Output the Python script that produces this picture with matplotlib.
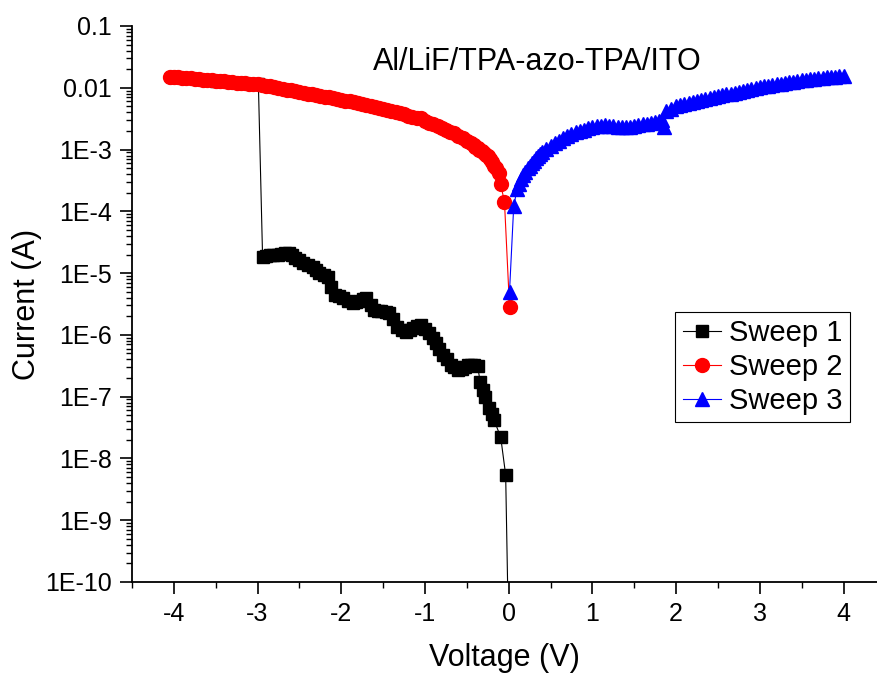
import matplotlib
matplotlib.use("Agg")
import matplotlib.pyplot as plt
from matplotlib.ticker import FixedLocator, FuncFormatter, LogLocator, NullFormatter

plt.rcParams["font.family"] = ["Liberation Sans", "DejaVu Sans"]
plt.rcParams["axes.unicode_minus"] = False

# Sweep 1 (black squares)
v_sweep1 = [-4.0, -3.5, -2.99,
            -2.94, -2.90, -2.85, -2.81, -2.76, -2.72, -2.67, -2.63, -2.59, -2.55, -2.50, -2.46,
            -2.40, -2.34, -2.30, -2.26, -2.21, -2.16, -2.12, -2.08, -2.03, -1.98, -1.92, -1.86,
            -1.82, -1.78, -1.74, -1.70, -1.65, -1.61, -1.56, -1.52, -1.47, -1.43, -1.38, -1.33,
            -1.28, -1.23, -1.18, -1.14, -1.09, -1.05, -1.00, -0.95, -0.91, -0.87, -0.83, -0.79,
            -0.74, -0.69, -0.65, -0.60, -0.56, -0.52, -0.48, -0.45, -0.41, -0.37, -0.34, -0.31,
            -0.28, -0.23, -0.20, -0.175, -0.095, -0.036, 0.0]
i_sweep1 = [1.5e-2, 1.31e-2, 1.14e-2,
            1.85e-5, 1.9e-5, 1.93e-5, 1.97e-5, 2.0e-5, 2.05e-5, 2.1e-5, 2.15e-5, 1.95e-5, 1.75e-5, 1.6e-5, 1.45e-5,
            1.35e-5, 1.27e-5, 1.12e-5, 1.0e-5, 9.3e-6, 8.7e-6, 6.0e-6, 4.4e-6, 4.2e-6, 4.0e-6, 3.6e-6, 3.3e-6,
            3.4e-6, 3.6e-6, 3.8e-6, 3.9e-6, 3.1e-6, 2.5e-6, 2.45e-6, 2.4e-6, 2.35e-6, 2.3e-6, 1.8e-6, 1.36e-6,
            1.2e-6, 1.12e-6, 1.2e-6, 1.3e-6, 1.38e-6, 1.44e-6, 1.25e-6, 1.07e-6, 9.0e-7, 7.4e-7, 6.0e-7, 4.8e-7,
            4.0e-7, 3.3e-7, 3.0e-7, 2.7e-7, 2.85e-7, 3.0e-7, 3.2e-7, 3.3e-7, 3.2e-7, 3.1e-7, 1.7e-7, 1.3e-7,
            1.0e-7, 6.5e-8, 5.2e-8, 4.2e-8, 2.2e-8, 5.4e-9, 1e-11]

# Sweep 2 (red circles)
v_sweep2 = [-4.05, -4.00, -3.95, -3.90, -3.85, -3.80, -3.75, -3.70, -3.65, -3.60, -3.55, -3.50,
            -3.45, -3.40, -3.35, -3.30, -3.25, -3.20, -3.15, -3.10, -3.05, -3.00, -2.95, -2.90,
            -2.85, -2.80, -2.75, -2.70, -2.65, -2.60, -2.55, -2.50, -2.45, -2.40, -2.35, -2.30,
            -2.25, -2.20, -2.15, -2.10, -2.05, -2.00, -1.95, -1.90, -1.85, -1.80, -1.75, -1.70,
            -1.65, -1.60, -1.55, -1.50, -1.45, -1.40, -1.35, -1.30, -1.25, -1.20, -1.15, -1.10,
            -1.05, -1.00, -0.95, -0.90, -0.85, -0.80, -0.75, -0.70, -0.65, -0.60, -0.55, -0.50,
            -0.45, -0.42, -0.40, -0.37, -0.35, -0.32, -0.30, -0.27, -0.25, -0.22, -0.20, -0.17,
            -0.15, -0.12, -0.095, -0.05, 0.01]
i_sweep2 = [1.52e-2, 1.50e-2, 1.48e-2, 1.46e-2, 1.44e-2, 1.42e-2, 1.40e-2, 1.38e-2, 1.36e-2, 1.34e-2, 1.32e-2, 1.30e-2,
            1.28e-2, 1.265e-2, 1.25e-2, 1.23e-2, 1.21e-2, 1.195e-2, 1.18e-2, 1.165e-2, 1.15e-2, 1.13e-2, 1.11e-2, 1.08e-2,
            1.05e-2, 1.02e-2, 9.9e-3, 9.6e-3, 9.3e-3, 9.05e-3, 8.8e-3, 8.55e-3, 8.3e-3, 8.05e-3, 7.8e-3, 7.6e-3,
            7.4e-3, 7.2e-3, 7.0e-3, 6.8e-3, 6.6e-3, 6.4e-3, 6.2e-3, 6.05e-3, 5.9e-3, 5.7e-3, 5.5e-3, 5.3e-3,
            5.1e-3, 4.9e-3, 4.7e-3, 4.5e-3, 4.3e-3, 4.15e-3, 4.0e-3, 3.85e-3, 3.7e-3, 3.55e-3, 3.4e-3, 3.3e-3,
            3.2e-3, 2.95e-3, 2.71e-3, 2.55e-3, 2.39e-3, 2.24e-3, 2.1e-3, 1.95e-3, 1.82e-3, 1.66e-3, 1.51e-3, 1.38e-3,
            1.26e-3, 1.18e-3, 1.12e-3, 1.06e-3, 1.0e-3, 9.3e-4, 8.8e-4, 8.3e-4, 7.8e-4, 6.9e-4, 6.3e-4, 5.5e-4,
            5.0e-4, 4.2e-4, 2.75e-4, 1.4e-4, 2.8e-6]

# Sweep 3 (blue triangles)
v_sweep3 = [0.01, 0.06, 0.10, 0.125, 0.15, 0.175, 0.20, 0.225, 0.25, 0.275, 0.30, 0.325, 0.35, 0.375,
            0.40, 0.45, 0.50, 0.55, 0.60, 0.65, 0.70, 0.75, 0.80, 0.85, 0.90, 0.95, 1.00, 1.05,
            1.10, 1.15, 1.20, 1.25, 1.30, 1.35, 1.40, 1.45, 1.50, 1.55, 1.60, 1.65, 1.70, 1.75,
            1.80, 1.83, 1.86, 1.88, 1.94, 2.00, 2.05, 2.10, 2.15, 2.20, 2.25, 2.30, 2.35, 2.40,
            2.45, 2.50, 2.55, 2.60, 2.65, 2.70, 2.75, 2.80, 2.85, 2.90, 2.95, 3.00, 3.05, 3.10,
            3.15, 3.20, 3.25, 3.30, 3.35, 3.40, 3.45, 3.50, 3.55, 3.60, 3.65, 3.70, 3.75, 3.80,
            3.85, 3.90, 3.95, 4.00]
i_sweep3 = [5.0e-6, 1.2e-4, 2.3e-4, 2.8e-4, 3.3e-4, 3.85e-4, 4.4e-4, 5.0e-4, 5.5e-4, 6.05e-4, 6.6e-4, 7.2e-4, 7.8e-4, 8.4e-4,
            9.0e-4, 1.02e-3, 1.15e-3, 1.27e-3, 1.4e-3, 1.52e-3, 1.65e-3, 1.78e-3, 1.9e-3, 2.0e-3, 2.1e-3, 2.2e-3, 2.3e-3, 2.38e-3,
            2.45e-3, 2.47e-3, 2.45e-3, 2.38e-3, 2.3e-3, 2.28e-3, 2.3e-3, 2.35e-3, 2.4e-3, 2.47e-3, 2.55e-3, 2.62e-3, 2.7e-3, 2.8e-3,
            2.9e-3, 3.0e-3, 2.3e-3, 4.2e-3, 4.6e-3, 5.0e-3, 5.2e-3, 5.4e-3, 5.6e-3, 5.8e-3, 6.05e-3, 6.3e-3, 6.55e-3, 6.8e-3,
            7.05e-3, 7.3e-3, 7.55e-3, 7.8e-3, 8.05e-3, 8.3e-3, 8.6e-3, 8.9e-3, 9.2e-3, 9.5e-3, 9.85e-3, 1.02e-2, 1.05e-2, 1.08e-2,
            1.11e-2, 1.14e-2, 1.17e-2, 1.2e-2, 1.23e-2, 1.26e-2, 1.29e-2, 1.32e-2, 1.35e-2, 1.38e-2, 1.405e-2, 1.43e-2, 1.455e-2, 1.48e-2,
            1.5e-2, 1.52e-2, 1.535e-2, 1.55e-2]

x_ticks = [-4, -3, -2, -1, 0, 1, 2, 3, 4]
x_minor_ticks = [-4.5, -3.5, -2.5, -1.5, -0.5, 0.5, 1.5, 2.5, 3.5]
y_tick_values = [1e-10, 1e-9, 1e-8, 1e-7, 1e-6, 1e-5, 1e-4, 1e-3, 1e-2, 1e-1]
y_tick_labels = ["1E-10", "1E-9", "1E-8", "1E-7", "1E-6", "1E-5", "1E-4", "1E-3", "0.01", "0.1"]


def y_label(val, pos):
    nearest = min(range(len(y_tick_values)), key=lambda k: abs(y_tick_values[k] - val) / y_tick_values[k])
    return y_tick_labels[nearest]


fig = plt.figure(figsize=(8.77, 6.75), dpi=100)
ax = fig.add_axes([0.1505, 0.1378, 0.8495, 0.8237])

ax.plot(v_sweep1, i_sweep1, "-s", color="black", lw=0.8, ms=8.5, label="Sweep 1")
ax.plot(v_sweep2, i_sweep2, "-o", color="red", lw=0.8, ms=10, label="Sweep 2")
ax.plot(v_sweep3, i_sweep3, "-^", color="blue", lw=0.8, ms=10.5, label="Sweep 3")

ax.set_yscale("log")
ax.set_xlim(-4.5, 4.4)
ax.set_ylim(1e-10, 0.1)

ax.spines["top"].set_visible(False)
ax.spines["right"].set_visible(False)
ax.spines["left"].set_linewidth(1.3)
ax.spines["bottom"].set_linewidth(1.3)

ax.xaxis.set_major_locator(FixedLocator(x_ticks))
ax.xaxis.set_minor_locator(FixedLocator(x_minor_ticks))
ax.yaxis.set_major_locator(FixedLocator(y_tick_values))
ax.yaxis.set_major_formatter(FuncFormatter(y_label))
ax.yaxis.set_minor_locator(LogLocator(base=10, subs=range(2, 10), numticks=20))
ax.yaxis.set_minor_formatter(NullFormatter())

ax.tick_params(which="major", direction="out", length=8.5, width=1.2, labelsize=18, pad=6)
ax.tick_params(which="minor", direction="out", length=4.5, width=1.0)

ax.set_xlabel("Voltage (V)", fontsize=22, labelpad=12)
ax.set_ylabel("Current (A)", fontsize=22, labelpad=2)

ax.text(0.544, 0.935, "Al/LiF/TPA-azo-TPA/ITO", transform=ax.transAxes,
        ha="center", va="center", fontsize=22)

leg = ax.legend(loc="upper right", bbox_to_anchor=(0.964, 0.486), fontsize=21,
                fancybox=False, framealpha=1, edgecolor="black", borderpad=0.25,
                labelspacing=0.2, handlelength=1.3, handletextpad=0.3, borderaxespad=0)
leg.get_frame().set_linewidth(0.8)

fig.savefig("out.png", dpi=100)
